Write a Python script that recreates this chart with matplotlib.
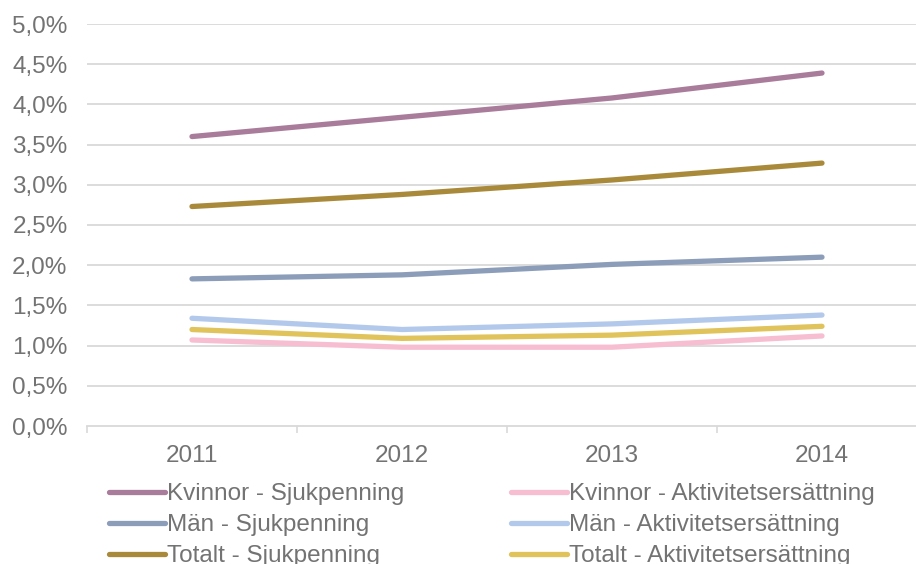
import matplotlib
matplotlib.use("Agg")
import matplotlib.pyplot as plt
from matplotlib.ticker import FixedLocator, FuncFormatter

years = ["2011", "2012", "2013", "2014"]
kvinnor_sjuk = [3.60, 3.84, 4.08, 4.39]
man_sjuk = [1.83, 1.88, 2.01, 2.10]
totalt_sjuk = [2.73, 2.88, 3.06, 3.27]
kvinnor_akt = [1.07, 0.98, 0.98, 1.12]
man_akt = [1.34, 1.20, 1.27, 1.38]
totalt_akt = [1.20, 1.09, 1.13, 1.24]

series = [
    ("Kvinnor - Sjukpenning", kvinnor_sjuk, "#A87C9A"),
    ("Män - Sjukpenning", man_sjuk, "#8C9DB9"),
    ("Totalt - Sjukpenning", totalt_sjuk, "#A98A3B"),
    ("Kvinnor - Aktivitetsersättning", kvinnor_akt, "#F7BDD1"),
    ("Män - Aktivitetsersättning", man_akt, "#B3C9EC"),
    ("Totalt - Aktivitetsersättning", totalt_akt, "#E0C35B"),
]

plt.rcParams['font.family'] = ['Liberation Sans', 'DejaVu Sans']
txt = "#737373"
fs = 17.5

fig = plt.figure(figsize=(9.16, 5.64), dpi=100)
ax = fig.add_axes([87/916, 1-426/564, (927-87)/916, (426-24)/564])

x = list(range(len(years)))
handles = []
for label, vals, color in series:
    h, = ax.plot(x, vals, color=color, lw=3.8, solid_capstyle='round',
                 solid_joinstyle='round', label=label, zorder=3)
    handles.append(h)

ax.set_xlim(-0.5, 3.5)
ax.set_ylim(0, 5)
yt = [i * 0.5 for i in range(11)]
ax.set_yticks(yt)
ax.yaxis.set_major_formatter(FuncFormatter(lambda v, p: f"{v:.1f}%".replace(".", ",")))
ax.set_xticks(x)
ax.set_xticklabels(years)
ax.xaxis.set_minor_locator(FixedLocator([-0.5, 0.5, 1.5, 2.5, 3.5]))
ax.tick_params(axis='x', which='major', length=0, pad=14, labelsize=fs, labelcolor=txt)
ax.tick_params(axis='x', which='minor', length=5, width=1.2, color="#d9d9d9", direction='out')
ax.tick_params(axis='y', length=0, pad=14, labelsize=fs, labelcolor=txt)

for v in yt[1:]:
    ax.axhline(v, color="#d9d9d9", lw=1.3, zorder=1)
for s in ["top", "right", "left"]:
    ax.spines[s].set_visible(False)
ax.spines["bottom"].set_color("#d9d9d9")
ax.spines["bottom"].set_linewidth(1.3)

leg = fig.legend(handles=handles, loc='upper left',
                 bbox_to_anchor=(109/916, 1-483/564), ncol=2, frameon=False,
                 fontsize=fs, handlelength=2.3, handletextpad=0.08,
                 columnspacing=4.4, labelspacing=0.37, borderpad=0, borderaxespad=0)
for t in leg.get_texts():
    t.set_color(txt)

fig.savefig("out.png", dpi=100)
